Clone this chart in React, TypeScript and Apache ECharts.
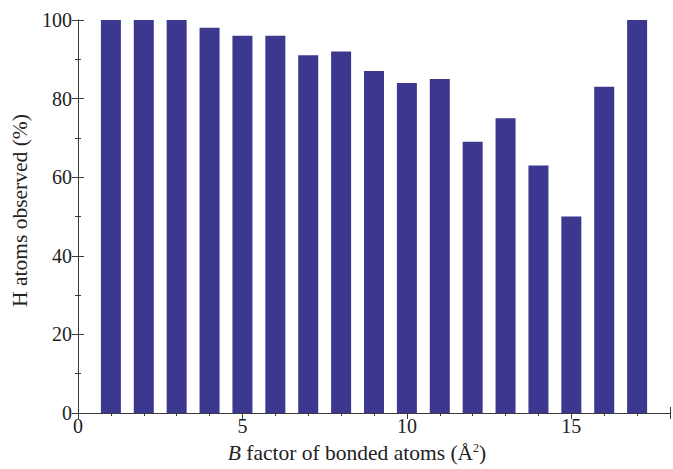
import React, { useEffect, useRef } from "react";
import * as echarts from "echarts";

const bFactors = [1, 2, 3, 4, 5, 6, 7, 8, 9, 10, 11, 12, 13, 14, 15, 16, 17];
const hObserved = [100, 100, 100, 98, 96, 96, 91, 92, 87, 84, 85, 69, 75, 63, 50, 83, 100];
const xTicks = [0, 5, 10, 15];
const yTicks = [0, 20, 40, 60, 80, 100];

export default function App() {
  const ref = useRef<HTMLDivElement>(null);
  useEffect(() => {
    if (!ref.current) return;
    const chart = echarts.init(ref.current, null, { renderer: "svg" });
    const font = "Liberation Serif";
    const axisColor = "#3a3a3a";
    const common = {
      axisLine: { show: true, lineStyle: { color: axisColor, width: 1 } },
      splitLine: { show: false },
    };
    chart.setOption({
      animation: false,
      backgroundColor: "#ffffff",
      textStyle: { fontFamily: font },
      grid: { left: 78, top: 20, width: 600, bottom: 53, containLabel: false },
      xAxis: [
        {
          type: "value",
          min: 0,
          max: 18,
          interval: 5,
          position: "bottom",
          ...common,
          axisTick: { show: true, inside: true, length: 6, lineStyle: { color: axisColor } },
          minorTick: { show: true, splitNumber: 5, length: 3, lineStyle: { color: axisColor } },
          axisLabel: {
            color: "#222",
            fontSize: 20,
            fontFamily: font,
            margin: 3,
            formatter: (v: number) => (xTicks.includes(v) ? String(v) : ""),
          },
          name: "{i|B} factor of bonded atoms (Å{s|2})",
          nameLocation: "middle",
          nameGap: 29,
          nameTextStyle: {
            color: "#222",
            fontSize: 21.5,
            fontFamily: font,
            padding: [0, 34, 0, 0],
            rich: {
              i: { fontStyle: "italic", fontSize: 21.5, fontFamily: font, color: "#222" },
              s: { fontSize: 12, fontFamily: font, color: "#222", verticalAlign: "top", padding: [0, 0, 9, 0] },
            },
          },
        },
        {
          type: "value",
          min: 0,
          max: 18,
          interval: 5,
          position: "top",
          ...common,
          axisTick: { show: true, inside: true, length: 6, lineStyle: { color: axisColor } },
          minorTick: { show: true, splitNumber: 5, length: 3, lineStyle: { color: axisColor } },
          axisLabel: { show: false },
        },
      ],
      yAxis: [
        {
          type: "value",
          min: 0,
          max: 100,
          interval: 20,
          position: "left",
          ...common,
          axisTick: { show: true, inside: true, length: 6, lineStyle: { color: axisColor } },
          minorTick: { show: true, splitNumber: 2, length: 3, lineStyle: { color: axisColor } },
          axisLabel: {
            color: "#222",
            fontSize: 20,
            fontFamily: font,
            margin: 6,
            formatter: (v: number) => (yTicks.includes(v) ? String(v) : ""),
          },
          name: "H atoms observed (%)",
          nameLocation: "middle",
          nameGap: 47,
          nameTextStyle: { color: "#222", fontSize: 21.5, fontFamily: font, padding: [0, 0, 0, 12] },
        },
        {
          type: "value",
          min: 0,
          max: 100,
          interval: 20,
          position: "right",
          ...common,
          axisTick: { show: true, inside: true, length: 6, lineStyle: { color: axisColor } },
          minorTick: { show: true, splitNumber: 2, length: 3, lineStyle: { color: axisColor } },
          axisLabel: { show: false },
        },
      ],
      series: [
        {
          type: "bar",
          xAxisIndex: 0,
          yAxisIndex: 0,
          barWidth: 20,
          itemStyle: { color: "#3c378f" },
          data: bFactors.map((b, i) => [b, hObserved[i]]),
        },
      ],
    });
    return () => chart.dispose();
  }, []);
  return (
    <div
      ref={ref}
      style={{ position: "fixed", left: 0, top: 0, width: 673, height: 469, background: "#fff" }}
    />
  );
}
